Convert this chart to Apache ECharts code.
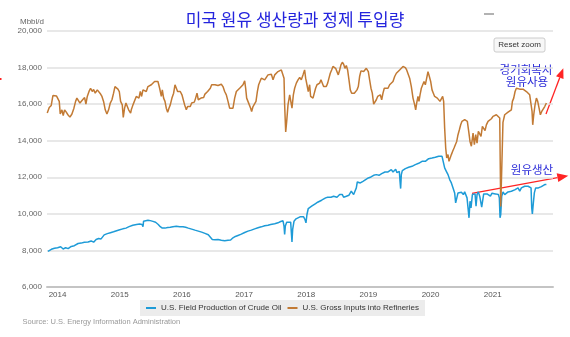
<!DOCTYPE html>
<html><head><meta charset="utf-8">
<script src="https://cdn.jsdelivr.net/npm/echarts@6/dist/echarts.min.js"></script>
<style>html,body{margin:0;padding:0;background:#fff}#c{width:570px;height:337px}</style>
</head><body><div id="c"></div>
<script>
// Years as decimal (fraction of year), values in Mbbl/d
const seriesNames = ['U.S. Field Production of Crude Oil', 'U.S. Gross Inputs into Refineries'];
const yearLabels = [2014, 2015, 2016, 2017, 2018, 2019, 2020, 2021];

const refineryInputs = [
[2013.834,15510],[2013.866,15820],[2013.898,15930],[2013.925,16470],[2013.952,16550],[2013.984,16440],[2014.006,16510],[2014.027,16150],[2014.043,15460],[2014.070,15690],[2014.091,15380],[2014.113,15690],[2014.140,15560],[2014.166,15420],[2014.199,15290],[2014.231,15460],[2014.263,15780],[2014.290,16150],[2014.311,16330],[2014.338,16270],[2014.360,16060],[2014.381,15960],[2014.403,16240],[2014.435,16360],[2014.456,16000],[2014.478,16420],[2014.510,16730],[2014.531,16870],[2014.558,16690],[2014.580,16800],[2014.606,16600],[2014.639,16780],[2014.665,16690],[2014.692,16550],[2014.714,16420],[2014.740,16150],[2014.767,15690],[2014.794,15460],[2014.821,15690],[2014.848,16060],[2014.875,16240],[2014.901,16600],[2014.923,16960],[2014.944,16870],[2014.971,16820],[2014.993,16690],[2015.014,16150],[2015.041,15960],[2015.057,15270],[2015.078,15780],[2015.100,16060],[2015.121,16000],[2015.143,15690],[2015.175,15510],
[2015.186,15690],[2015.213,15960],[2015.239,16060],[2015.266,16420],[2015.293,16510],[2015.309,16330],[2015.331,16690],[2015.352,16420],[2015.374,16780],[2015.400,16870],[2015.427,16690],[2015.454,16960],[2015.481,16870],[2015.508,17060],[2015.534,17150],[2015.561,17240],[2015.588,17270],[2015.615,17240],[2015.642,16870],[2015.669,16420],[2015.685,16780],[2015.706,16330],[2015.728,16150],[2015.749,15780],[2015.771,15560],[2015.792,15780],[2015.813,15960],[2015.840,16330],[2015.867,16600],[2015.889,17060],[2015.910,16960],[2015.931,16690],[2015.953,16780],[2015.974,16690],[2016.001,16510],[2016.023,16420],[2016.044,15960],[2016.071,15690],[2016.092,15870],[2016.114,15960],[2016.135,15870],[2016.157,16060],[2016.178,16150],[2016.200,16110],[2016.221,16330],[2016.243,16600],[2016.264,16240],[2016.285,16150],[2016.307,16330],[2016.328,16420],[2016.350,16360],[2016.371,16550],[2016.393,16510],[2016.414,16690],[2016.436,16600],[2016.457,16870],[2016.479,17060],[2016.500,16960],[2016.532,17060],
[2016.554,16960],[2016.581,17020],[2016.607,16960],[2016.634,17090],[2016.661,16960],[2016.688,16690],[2016.715,16510],[2016.742,16150],[2016.768,15780],[2016.795,15690],[2016.822,15780],[2016.849,16330],[2016.876,16690],[2016.902,16780],[2016.929,16870],[2016.956,16960],[2016.983,17060],[2017.010,17270],[2017.026,16870],[2017.042,16330],[2017.063,16240],[2017.085,15960],[2017.106,15780],[2017.122,15600],[2017.144,15870],[2017.171,15820],[2017.192,16150],[2017.214,16690],[2017.235,17060],[2017.256,17240],[2017.278,17420],[2017.305,17510],[2017.332,17330],[2017.358,17420],[2017.385,17600],[2017.412,17510],[2017.439,17640],[2017.466,17330],[2017.493,17600],[2017.519,17690],[2017.546,17780],[2017.573,17820],[2017.600,17870],[2017.627,17930],[2017.643,17420],[2017.653,15960],[2017.670,14480],[2017.686,15060],[2017.707,15960],[2017.734,16510],[2017.755,16420],[2017.771,15780],[2017.793,16510],[2017.814,16870],[2017.841,17150],[2017.868,17330],[2017.895,17460],
[2017.921,17330],[2017.948,17600],[2017.974,17870],[2017.991,17420],[2018.012,17060],[2018.033,16690],[2018.055,17060],[2018.071,16420],[2018.087,16330],[2018.109,16330],[2018.130,16420],[2018.151,16870],[2018.173,17060],[2018.194,16960],[2018.216,17150],[2018.237,17330],[2018.259,17240],[2018.280,16960],[2018.302,16870],[2018.323,16960],[2018.345,17150],[2018.366,17420],[2018.387,17690],[2018.409,17870],[2018.430,18060],[2018.452,18150],[2018.473,17960],[2018.495,17870],[2018.516,17600],[2018.538,17870],[2018.559,18150],[2018.581,18290],[2018.602,18180],[2018.623,17960],[2018.645,18110],[2018.666,17870],[2018.688,17330],[2018.709,16780],[2018.731,16600],[2018.752,16550],[2018.774,16600],[2018.795,16690],[2018.817,16780],[2018.838,16960],[2018.859,17510],[2018.881,17820],[2018.902,17870],[2018.924,17780],[2018.945,17870],[2018.967,17960],[2018.983,18060],[2018.999,17780],[2019.020,17330],[2019.042,16870],[2019.063,16600],[2019.085,16000],[2019.106,16060],[2019.128,16240],[2019.149,16420],[2019.171,16330],[2019.192,16510],[2019.214,16240],[2019.235,16600],[2019.256,16870],[2019.278,16780],
[2019.316,16870],[2019.342,17060],[2019.369,17060],[2019.396,17240],[2019.423,17510],[2019.450,17690],[2019.477,17780],[2019.503,17870],[2019.530,17780],[2019.557,18060],[2019.573,17960],[2019.595,18000],[2019.616,17870],[2019.637,17780],[2019.664,17420],[2019.691,16960],[2019.718,16330],[2019.745,15960],[2019.761,15690],[2019.777,16060],[2019.798,16420],[2019.814,16150],[2019.831,16510],[2019.852,16870],[2019.874,16960],[2019.895,17240],[2019.916,17060],[2019.938,17420],[2019.959,17780],[2019.981,17510],[2020.002,17240],[2020.024,16780],[2020.045,16600],[2020.066,16420],[2020.088,16330],[2020.109,16330],[2020.131,16240],[2020.152,16150],[2020.174,16240],[2020.195,16420],[2020.211,16150],[2020.227,14690],[2020.244,13600],[2020.260,13060],[2020.281,13240],[2020.297,12870],[2020.313,12960],[2020.335,13240],[2020.356,13420],[2020.378,13600],[2020.399,13780],[2020.421,13960],[2020.442,14330],[2020.464,14600],[2020.485,14870],[2020.506,15060],[2020.528,15150],[2020.549,15150],[2020.571,15240],[2020.592,15060],[2020.614,14510],[2020.635,13960],
[2020.657,13700],[2020.684,14420],[2020.705,13780],[2020.727,14330],[2020.748,13870],[2020.769,14510],[2020.791,14600],[2020.812,14240],[2020.834,14780],[2020.855,14870],[2020.877,14550],[2020.898,14870],[2020.925,15060],[2020.952,14960],[2020.979,15200],[2021.005,15330],[2021.032,15240],[2021.059,15420],[2021.081,15330],[2021.113,15240],[2021.129,10400],[2021.145,12400],[2021.165,15000],[2021.193,15420],[2021.220,15510],[2021.247,15560],[2021.274,15600],[2021.300,15690],[2021.317,16150],[2021.338,16330],[2021.360,16690],[2021.381,16870],[2021.408,16820],[2021.435,16820],[2021.461,16730],[2021.488,16820],[2021.515,16780],[2021.542,16690],[2021.569,16690],[2021.595,16510],[2021.617,16600],[2021.633,15600],[2021.644,14870],[2021.660,15420],[2021.681,15960],[2021.703,16330],[2021.724,16150],[2021.746,15780],[2021.767,15420],[2021.789,15600],[2021.810,15690],[2021.837,15870],[2021.864,16060]
];

const crudeProduction = [
[2013.845,7950],[2013.900,8060],[2013.950,8120],[2014.000,8150],[2014.050,8200],[2014.090,8080],[2014.130,8150],[2014.170,8100],[2014.220,8220],[2014.270,8260],[2014.330,8380],[2014.380,8400],[2014.430,8450],[2014.490,8460],[2014.540,8520],[2014.580,8450],[2014.620,8600],[2014.660,8650],[2014.700,8630],[2014.750,8850],[2014.800,8920],[2014.850,8970],[2014.900,9020],[2014.950,9080],[2015.000,9130],[2015.050,9180],[2015.100,9220],[2015.150,9300],
[2015.210,9380],[2015.270,9420],[2015.320,9440],[2015.360,9420],[2015.374,9300],[2015.384,9600],[2015.416,9640],[2015.454,9650],[2015.492,9630],[2015.534,9590],[2015.577,9540],[2015.620,9420],[2015.652,9300],[2015.685,9220],[2015.728,9220],[2015.771,9250],[2015.813,9270],[2015.856,9300],[2015.910,9320],[2015.964,9290],[2016.017,9300],[2016.060,9270],[2016.103,9220],[2016.157,9165],[2016.210,9110],[2016.264,9056],[2016.318,9000],[2016.371,8930],[2016.425,8855],[2016.457,8765],[2016.489,8600],[2016.532,8580],
[2016.581,8600],[2016.634,8560],[2016.688,8530],[2016.742,8560],[2016.784,8570],[2016.822,8690],[2016.860,8765],[2016.902,8820],[2016.956,8890],[2017.010,8980],[2017.063,9056],[2017.117,9110],[2017.171,9180],[2017.224,9240],[2017.278,9290],[2017.332,9350],[2017.385,9380],[2017.428,9420],[2017.460,9350],[2017.493,9455],[2017.546,9510],[2017.589,9580],[2017.627,9620],[2017.643,9330],[2017.653,8870],[2017.664,9330],[2017.686,9546],[2017.718,9583],[2017.750,9546],[2017.761,8965],[2017.771,8470],[2017.782,9146],[2017.804,9600],[2017.836,9728],[2017.868,9783],[2017.900,9837],
[2017.926,9783],[2017.958,9837],[2017.980,9692],[2017.996,9510],[2018.012,9964],[2018.033,10292],[2018.060,10364],[2018.087,10419],[2018.119,10510],[2018.151,10564],[2018.184,10637],[2018.216,10692],[2018.248,10746],[2018.280,10819],[2018.312,10874],[2018.345,10910],[2018.377,10964],[2018.398,10910],[2018.420,11019],[2018.441,10964],[2018.463,11055],[2018.495,10910],[2018.516,10983],[2018.538,11055],[2018.559,10946],[2018.581,11055],[2018.602,10910],[2018.623,11019],[2018.645,10964],[2018.666,11055],[2018.688,11019],[2018.709,11110],[2018.725,11237],[2018.741,11128],[2018.763,11055],[2018.784,11237],[2018.806,11419],[2018.822,11746],[2018.849,11782],[2018.870,11692],[2018.892,11728],[2018.913,11782],[2018.935,11819],[2018.956,11873],[2018.978,11928],[2018.999,11964],[2019.020,11928],[2019.042,12019],[2019.063,12001],[2019.085,12110],[2019.106,12055],[2019.128,12146],[2019.149,12182],[2019.171,12110],[2019.192,12219],[2019.214,12201],[2019.235,12273],[2019.267,12291],
[2019.316,12291],[2019.342,12364],[2019.369,12419],[2019.396,12291],[2019.418,12383],[2019.439,12437],[2019.460,12255],[2019.482,12346],[2019.498,12328],[2019.509,11782],[2019.519,11382],[2019.530,12146],[2019.546,12364],[2019.568,12419],[2019.595,12473],[2019.621,12437],[2019.648,12546],[2019.675,12510],[2019.702,12601],[2019.729,12564],[2019.755,12692],[2019.782,12655],[2019.809,12764],[2019.836,12837],[2019.863,12873],[2019.890,12910],[2019.916,12873],[2019.943,12964],[2019.970,13019],[2019.997,12964],[2020.024,13055],[2020.050,13019],[2020.077,13092],[2020.104,13037],[2020.131,13146],[2020.158,13092],[2020.185,13146],[2020.206,13055],[2020.227,12510],[2020.254,12328],[2020.281,12146],[2020.308,11873],[2020.335,11692],[2020.362,11419],[2020.388,11146],[2020.404,10601],[2020.421,10692],[2020.442,11146],[2020.469,11110],[2020.496,11183],[2020.528,11055],[2020.549,11201],[2020.571,11092],[2020.587,10874],[2020.603,10837],[2020.619,9783],[2020.635,10692],
[2020.651,10328],[2020.673,11055],[2020.694,11019],[2020.716,11092],[2020.732,10419],[2020.748,11055],[2020.769,11201],[2020.791,10965],[2020.807,11055],[2020.823,10364],[2020.839,10292],[2020.855,11092],[2020.882,11055],[2020.909,11092],[2020.936,11037],[2020.963,10965],[2020.989,11128],[2021.016,11055],[2021.043,11092],[2021.070,11128],[2021.091,11055],[2021.107,10874],[2021.118,9783],[2021.129,9965],[2021.145,10965],[2021.166,11201],[2021.193,11055],[2021.220,11146],[2021.247,11201],[2021.274,11092],[2021.300,11237],[2021.327,11146],[2021.354,11310],[2021.381,11237],[2021.408,11419],[2021.435,11237],[2021.461,11419],[2021.488,11328],[2021.515,11510],[2021.542,11419],[2021.569,11510],[2021.595,11564],[2021.617,11419],[2021.628,10328],[2021.638,10001],[2021.654,10601],[2021.670,11146],[2021.691,11419],[2021.713,11510],[2021.735,11419],[2021.756,11510],[2021.783,11492],[2021.810,11564],[2021.837,11601],[2021.864,11601]
];

const latin = '"Liberation Sans", Arial, sans-serif';
const kr = '"Noto Sans CJK KR", sans-serif';
const annBlue = '#2a2ad8';
const red = '#ff2424';

const chart = echarts.init(document.getElementById('c'), null, {renderer: 'canvas'});
chart.setOption({
  animation: false,
  backgroundColor: '#ffffff',
  grid: {left: 47, right: 17, top: 31, bottom: 50, containLabel: false},
  xAxis: {
    type: 'value', min: 2013.83, max: 2021.97,
    axisLine: {show: true, onZero: false, lineStyle: {color: '#c4c4c4', width: 2}},
    axisTick: {show: false},
    splitLine: {show: false},
    axisLabel: {customValues: yearLabels, formatter: v => String(Math.round(v)), color: '#555', fontSize: 8, margin: 4, fontFamily: latin}
  },
  yAxis: {
    type: 'value', min: 6000, max: 20000, interval: 2000,
    axisLine: {show: false}, axisTick: {show: false},
    splitLine: {lineStyle: {color: '#e0e0e0', width: 1.5}},
    axisLabel: {formatter: v => v.toLocaleString('en-US'), color: '#666', fontSize: 8, margin: 5, fontFamily: latin}
  },
  legend: {
    data: seriesNames, left: 140, top: 300,
    backgroundColor: '#ececec', padding: [4, 6], itemGap: 6,
    itemWidth: 10, itemHeight: 2, icon: 'rect',
    textStyle: {fontSize: 8, color: '#333', fontFamily: latin}
  },
  series: [
    {name: seriesNames[0], type: 'line', data: crudeProduction, showSymbol: false, color: '#1e9bd7', lineStyle: {width: 1.5}},
    {name: seriesNames[1], type: 'line', data: refineryInputs, showSymbol: false, color: '#c27a34', lineStyle: {width: 1.5}}
  ],
  graphic: [
    {type: 'text', x: 295, y: 20, style: {text: '미국 원유 생산량과 정제 투입량', fill: '#2424dd', fontSize: 17, fontFamily: kr, align: 'center', verticalAlign: 'middle'}},
    {type: 'text', x: 44, y: 22, style: {text: 'Mbbl/d', fill: '#666', fontSize: 8, fontFamily: latin, align: 'right', verticalAlign: 'middle'}},
    {type: 'line', shape: {x1: 484, y1: 14, x2: 494, y2: 14}, style: {stroke: '#999', lineWidth: 1.5}},
    {type: 'rect', shape: {x: 0, y: 78, width: 1.5, height: 2}, style: {fill: red}},
    {type: 'rect', shape: {x: 494, y: 38, width: 51, height: 14, r: 2}, style: {fill: '#f7f7f7', stroke: '#cccccc', lineWidth: 1}},
    {type: 'text', x: 519.5, y: 45, style: {text: 'Reset zoom', fill: '#333', fontSize: 8, fontFamily: latin, align: 'center', verticalAlign: 'middle'}},
    {type: 'text', x: 526, y: 70, style: {text: '경기회복시', fill: annBlue, fontSize: 11.5, fontFamily: kr, align: 'center', verticalAlign: 'middle'}},
    {type: 'text', x: 527, y: 82, style: {text: '원유사용', fill: annBlue, fontSize: 11.5, fontFamily: kr, align: 'center', verticalAlign: 'middle'}},
    {type: 'text', x: 532, y: 169.5, style: {text: '원유생산', fill: annBlue, fontSize: 11.5, fontFamily: kr, align: 'center', verticalAlign: 'middle'}},
    {type: 'line', shape: {x1: 546, y1: 114, x2: 559.8, y2: 77.6}, style: {stroke: red, lineWidth: 1.3}},
    {type: 'polygon', shape: {points: [[563.3, 68.3], [563.5, 79.1], [556.0, 76.2]]}, style: {fill: red}},
    {type: 'line', shape: {x1: 472, y1: 193.3, x2: 557.5, y2: 177.7}, style: {stroke: red, lineWidth: 1.3}},
    {type: 'polygon', shape: {points: [[568.3, 175.7], [558.3, 182.1], [556.7, 173.2]]}, style: {fill: red}},
    {type: 'text', x: 22.6, y: 322, style: {text: 'Source: U.S. Energy Information Administration', fill: '#999', fontSize: 7.5, fontFamily: latin, align: 'left', verticalAlign: 'middle'}}
  ]
});
</script></body></html>
